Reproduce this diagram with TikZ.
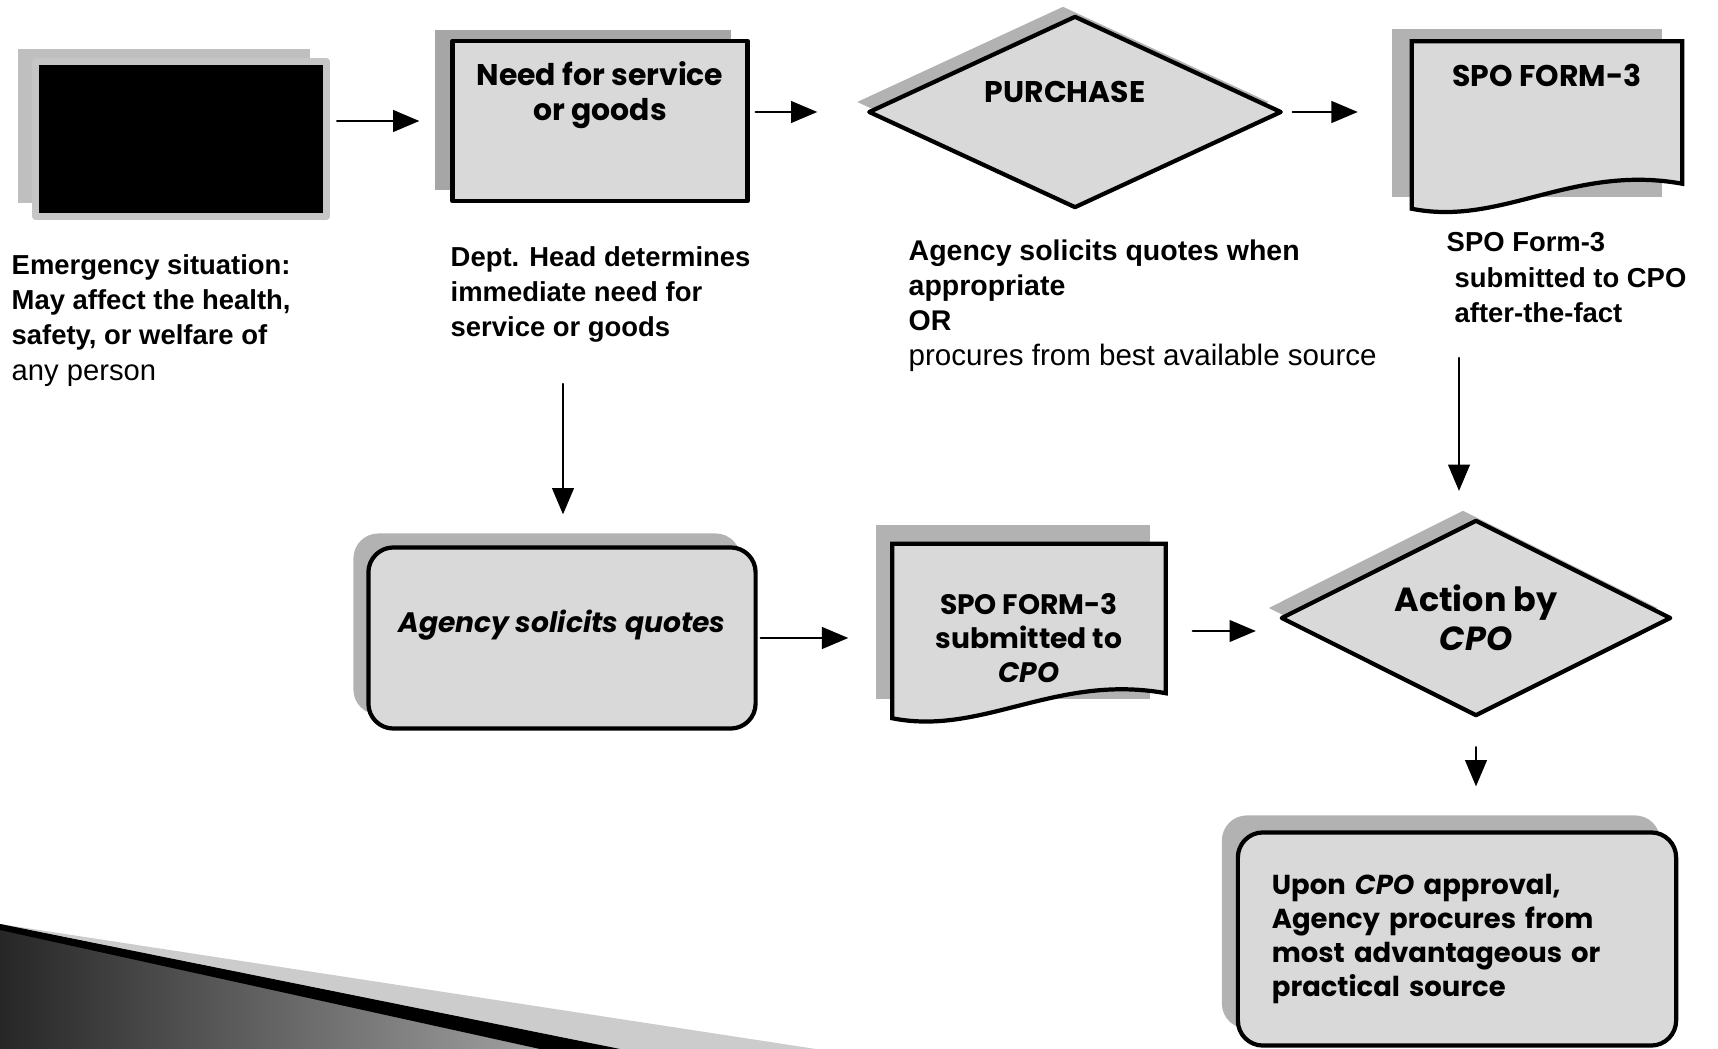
\documentclass[tikz,border=0pt]{standalone}
\usepackage{fontspec}
\setmainfont{Liberation Sans}
\newfontfamily\comicfont{Poppins}
\usetikzlibrary{arrows}
\usetikzlibrary{positioning}
\usetikzlibrary{shapes.geometric}
\usetikzlibrary{shadows}
\usetikzlibrary{backgrounds}

\tikzset{
  flow/.style={->,line width=0.7pt},
  frontbox/.style={draw,line width=1.2pt,fill=gray!30,inner sep=0pt,align=center,
    font=\comicfont\bfseries\fontsize{8.5}{10}\selectfont},
  backshade/.style={general shadow={fill=gray!60,#1}},
  boxtext/.style={inner sep=0pt,align=center,font=\comicfont\bfseries\fontsize{8.5}{10}\selectfont},
  desc/.style={anchor=north west,align=left,inner sep=0pt,font=\bfseries\fontsize{7.8}{10}\selectfont}
}

\newcommand{\docshape}[2]{%
  \fill[gray!60] ([shift={#2}]#1.north west) -- ([shift={#2}]#1.north east)
    -- ([shift={#2}]#1.south east) -- ([shift={#2}]#1.south west) -- cycle;
  \filldraw[fill=gray!30,line width=1.2pt] (#1.north west) -- (#1.north east)
    -- ([yshift=0.25cm]#1.south east) .. controls ([shift={(-110,-45)}]#1.south east)
    and ([shift={(90,18)}]#1.south west) .. (#1.south west) -- cycle;}

\begin{document}
\begin{tikzpicture}[line cap=round,line join=round,>=triangle 45,x=0.01cm,y=-0.01cm]
\useasboundingbox (0,0) rectangle (1718,1049);

\node[frontbox,fill=black,draw=gray!45,line width=2pt,minimum width=2.91cm,minimum height=1.54cm,
  backshade={fill=gray!50,shadow xshift=-0.17cm,shadow yshift=0.13cm}] (emerg) at (181,139) {};
\node[frontbox,minimum width=2.95cm,minimum height=1.6cm,
  backshade={fill=gray!70,shadow xshift=-0.17cm,shadow yshift=0.11cm}] (need) at (600,121) {};
\node[boxtext,below=0.22cm of need.north] (needtxt) {Need for service\\or goods};
\node[frontbox,diamond,aspect=2,minimum width=4.13cm,minimum height=1.92cm,
  backshade={shadow xshift=-0.12cm,shadow yshift=0.1cm}] (purchase) at (1075,112) {};
\node[boxtext] (purchasetxt) at ([shift={(-10,-20)}]purchase.center) {PURCHASE};
\node[minimum width=2.69cm,minimum height=1.66cm,inner sep=0pt] (form1) at (1547,125) {};
\node[boxtext,below=0.22cm of form1.north] (form1txt) {SPO FORM-3};

\node[desc] (emtxt) at (11,254) {Emergency situation:\\May affect the health,\\safety, or welfare of\\{\mdseries\fontsize{8.3}{10}\selectfont any person}};
\node[desc] (depttxt) at (450,246) {Dept. Head determines\\immediate need for\\service or goods};
\node[desc,font=\bfseries\fontsize{8.1}{10}\selectfont] (agtxt) at (908,239) {Agency solicits quotes when\\appropriate\\OR\\{\mdseries\fontsize{8.4}{10}\selectfont procures from best available source}};
\node[desc] (spotxt) at (1446,232) {SPO Form-3\\\hspace*{0.08cm}submitted to CPO\\\hspace*{0.08cm}after-the-fact};

\node[frontbox,rounded corners=0.25cm,minimum width=3.87cm,minimum height=1.81cm,font=\comicfont\bfseries\fontsize{8}{10}\selectfont,
  backshade={shadow xshift=-0.15cm,shadow yshift=0.14cm}] (agency) at (562,638)
  {\raisebox{0.13cm}[\height][\depth]{\itshape Agency solicits quotes}};
\node[minimum width=2.72cm,minimum height=1.73cm,inner sep=0pt] (form2) at (1029,631) {};
\node[boxtext,font=\comicfont\bfseries\fontsize{8}{9.6}\selectfont] (form2txt) at ([yshift=-0.07cm]form2.center) {SPO FORM-3\\submitted to\\\textit{CPO}};
\node[frontbox,diamond,aspect=2,minimum width=3.9cm,minimum height=1.96cm,font=\comicfont\bfseries\fontsize{9.5}{11}\selectfont,
  backshade={shadow xshift=-0.13cm,shadow yshift=0.1cm}] (action) at (1476,618) {Action by\\\textit{CPO}};
\node[frontbox,rounded corners=0.25cm,minimum width=4.38cm,minimum height=2.13cm,text width=3.7cm,align=left,
  font=\comicfont\bfseries\fontsize{7.8}{9.7}\selectfont,
  backshade={shadow xshift=-0.16cm,shadow yshift=0.17cm}] (final) at (1457,939)
  {Upon \textit{CPO} approval,\\Agency procures from\\most advantageous or\\practical source};

\begin{pgfonlayer}{background}
\docshape{form1}{(-20,-12)}
\docshape{form2}{(-16,-19)}
\end{pgfonlayer}

\coordinate (deptout) at (563,384);
\coordinate (spoout) at (1459,358);
\draw[flow,shorten <=0.07cm,shorten >=0.31cm] (emerg.east |- need.west) -- (need.west);
\draw[flow,shorten <=0.06cm,shorten >=0.49cm] (need.east |- purchase.west) -- (purchase.west);
\draw[flow,shorten <=0.09cm,shorten >=0.54cm] (purchase.east) -- (purchase.east -| form1.west);
\draw[flow,shorten >=0.31cm] (deptout) -- (deptout |- agency.north);
\draw[flow,shorten <=0.03cm,shorten >=0.44cm] (agency.east) -- (agency.east -| form2.west);
\draw[flow,shorten <=0.27cm,shorten >=0.23cm] (form2.east) -- (form2.east -| action.west);
\draw[flow,shorten >=0.27cm] (spoout) -- (spoout |- action.north);
\draw[flow,shorten <=0.29cm,shorten >=0.44cm] (action.south) -- (action.south |- final.north);

\begin{scope}
\shade[left color=black!85,right color=gray!60] (0,924) -- (620,1049) -- (0,1049) -- cycle;
\fill[gray!40] (0,924) -- (816,1049) -- (620,1049) -- cycle;
\fill[black] (0,924) -- (620,1049) -- (540,1049) -- (0,930) -- cycle;
\end{scope}
\end{tikzpicture}
\end{document}
